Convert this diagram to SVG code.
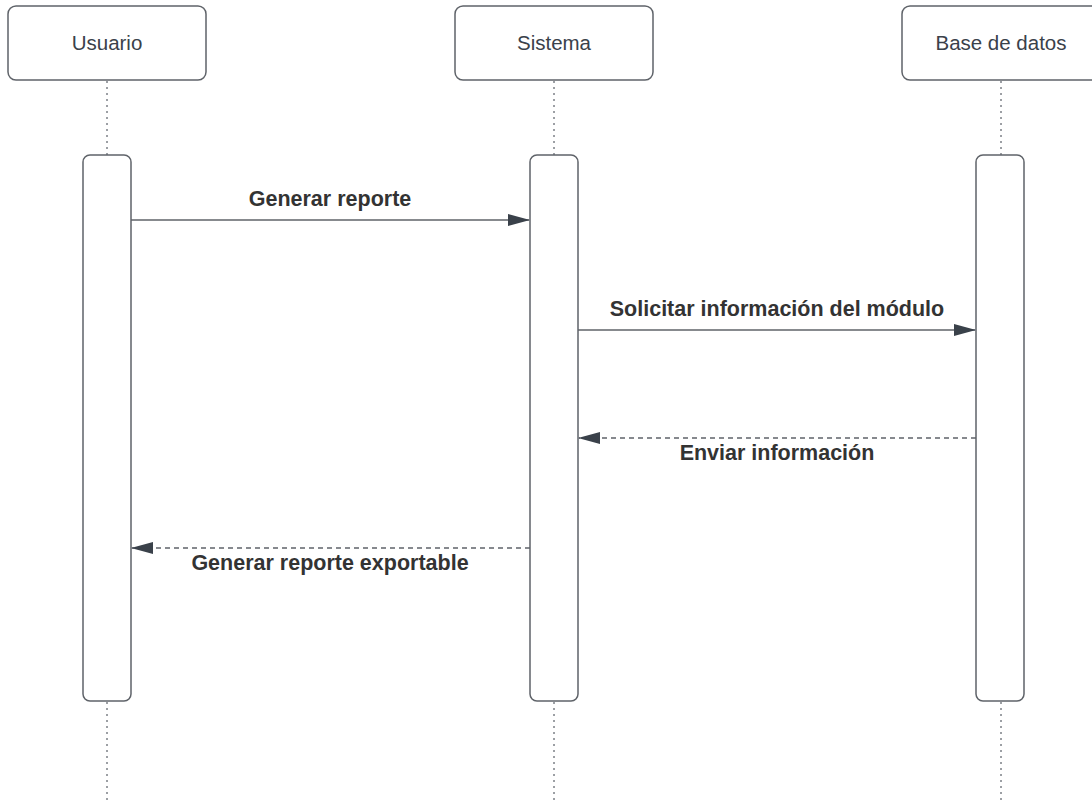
<svg xmlns="http://www.w3.org/2000/svg" width="1092" height="802" viewBox="0 0 1092 802">
<style>
.box{fill:#ffffff;stroke:#5f6369;stroke-width:1.5}
.act{fill:#ffffff;stroke:#5f6369;stroke-width:1.5}
.life{stroke:#3a414a;stroke-width:1;stroke-dasharray:2 4;fill:none}
.name{font-family:"Liberation Sans",Arial,sans-serif;font-size:20.5px;fill:#3a414a;text-anchor:middle}
.msg{stroke:#5f6369;stroke-width:1.5;fill:none}
.ret{stroke:#5f6369;stroke-width:1.5;fill:none;stroke-dasharray:5 4}
.lbl{font-family:"Liberation Sans",Arial,sans-serif;font-size:21.5px;font-weight:bold;fill:#333333;text-anchor:middle}
</style>
<defs>
<marker id="ah" markerWidth="22" markerHeight="12" refX="21" refY="6" orient="auto" markerUnits="userSpaceOnUse">
<path d="M0,0 L22,6 L0,12 Z" fill="#3a414a"/>
</marker>
</defs>
<rect width="1092" height="802" fill="#ffffff"/>
<g id="lifelines">
<line class="life" x1="107" y1="81" x2="107" y2="155"/>
<line class="life" x1="107" y1="702" x2="107" y2="802"/>
<line class="life" x1="554" y1="81" x2="554" y2="155"/>
<line class="life" x1="554" y1="702" x2="554" y2="802"/>
<line class="life" x1="1001" y1="81" x2="1001" y2="155"/>
<line class="life" x1="1001" y1="702" x2="1001" y2="802"/>
</g>
<g id="usuario">
<rect class="box" x="8" y="6" width="198" height="74" rx="8"/>
<text class="name" x="107" y="50">Usuario</text>
<rect class="act" x="83" y="155" width="48" height="546" rx="7"/>
</g>
<g id="sistema">
<rect class="box" x="455" y="6" width="198" height="74" rx="8"/>
<text class="name" x="554" y="50">Sistema</text>
<rect class="act" x="530" y="155" width="48" height="546" rx="7"/>
</g>
<g id="base-de-datos">
<rect class="box" x="902" y="6" width="198" height="74" rx="8"/>
<text class="name" x="1001" y="50">Base de datos</text>
<rect class="act" x="976" y="155" width="48" height="546" rx="7"/>
</g>
<g id="connectors">
<line class="msg" x1="131" y1="220" x2="529" y2="220" marker-end="url(#ah)"/>
<text class="lbl" x="330" y="206">Generar reporte</text>
<line class="msg" x1="578" y1="330" x2="975" y2="330" marker-end="url(#ah)"/>
<text class="lbl" x="777" y="316">Solicitar información del módulo</text>
<line class="ret" x1="976" y1="438" x2="579" y2="438" marker-end="url(#ah)"/>
<text class="lbl" x="777" y="460">Enviar información</text>
<line class="ret" x1="530" y1="548" x2="132" y2="548" marker-end="url(#ah)"/>
<text class="lbl" x="330" y="570">Generar reporte exportable</text>
</g>
</svg>
